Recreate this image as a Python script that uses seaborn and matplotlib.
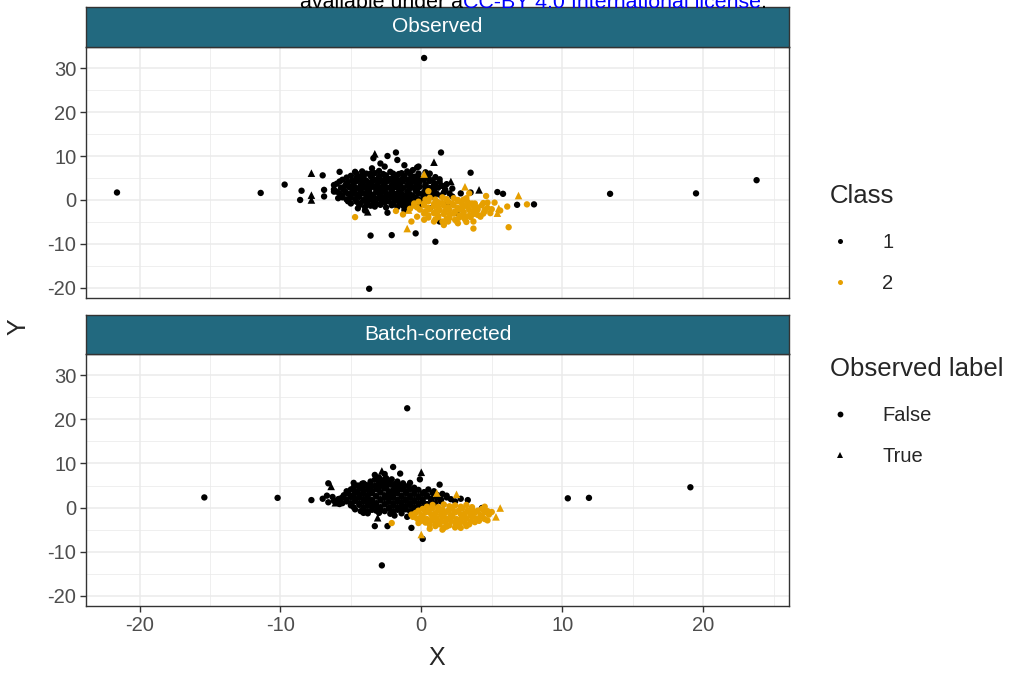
import matplotlib
matplotlib.use("Agg")
import matplotlib.pyplot as plt
from matplotlib.lines import Line2D
from matplotlib.ticker import MultipleLocator
import pandas as pd
import seaborn as sns

# ---------------------------------------------------------------
# Embedding coordinates, split by panel, class and observed label
# ---------------------------------------------------------------
panels = ["Observed", "Batch-corrected"]
class_levels = [1, 2]
label_levels = [False, True]
class_colors = ["#000000", "#E69F00"]
label_markers = ["o", "^"]

x_ticks = [-20, -10, 0, 10, 20]
y_ticks = [-20, -10, 0, 10, 20, 30]

# Observed, class 1, label False
obs_c1_false = [
    (0.2, 32.3), (-21.6, 1.7), (-11.4, 1.6), (13.4, 1.4), (19.5, 1.5), (23.8, 4.5),
    (-3.7, -20.2), (-9.7, 3.5),
    (-7.0, 5.6), (-5.8, 6.4), (-8.5, 2.1), (-8.6, 0.0), (-6.9, 2.3), (-6.9, 0.8),
    (-6.2, 3.4), (-6.2, 1.9), (-5.9, 0.4), (-4.7, 6.4), (-3.4, 9.5), (-2.4, 10.0),
    (-1.8, 10.8), (-2.9, 8.3), (-1.7, 9.1), (-3.5, 7.2), (-4.5, -1.9), (-3.6, -8.1),
    (-2.1, -8.0), (-0.4, -7.6), (1.0, -9.5), (1.4, 10.8), (3.5, 6.2), (3.5, 1.7),
    (5.4, 1.8), (5.8, 1.4), (6.8, -1.1), (8.0, -1.0), (-0.3, 7.4), (1.3, 4.7),
    (1.6, 3.0), (2.8, 1.5), (1.3, -4.9), (-0.2, 1.5), (-0.1, -1.1), (-2.6, 7.6),
    (-1.2, 7.9), (-0.6, 6.8), (-4.0, -2.4), (-2.4, -2.9), (-1.2, -2.3), (0.6, -1.9),
    (2.2, 0.8), (1.9, -0.6), (-0.2, 7.6),
    (-4.2, 6.5), (-3.0, 6.6), (-2.2, 6.4), (-1.0, 6.5), (0.3, 6.3), (-3.6, 6.0), (-1.6, 5.9),
    (-4.6, 6.0), (-3.9, 6.0), (-3.3, 6.1), (-2.7, 5.9), (-2.0, 6.0), (-1.4, 6.1),
    (-0.8, 5.9), (-0.2, 6.0), (0.6, 6.0),
    (-5.0, 5.5), (-4.3, 5.4), (-3.6, 5.5), (-3.0, 5.3), (-2.5, 5.6), (-1.8, 5.4),
    (-1.2, 5.5), (-0.5, 5.3), (0.4, 5.5), (1.0, 5.2),
    (-5.3, 5.1), (-4.6, 5.0), (-4.1, 5.2), (-3.5, 5.1), (-3.0, 4.9), (-2.5, 5.1),
    (-1.9, 5.2), (-1.3, 5.0), (-0.7, 5.1), (-0.1, 4.9), (0.5, 5.1),
    (-5.6, 4.6), (-4.9, 4.5), (-4.4, 4.7), (-3.9, 4.4), (-3.3, 4.6), (-2.8, 4.5),
    (-2.2, 4.8), (-1.6, 4.5), (-1.0, 4.6), (-0.4, 4.4), (0.2, 4.7), (0.8, 4.5),
    (-5.8, 4.2), (-5.2, 4.1), (-4.6, 4.3), (-4.1, 4.2), (-3.5, 4.0), (-3.0, 4.2),
    (-2.4, 4.3), (-1.9, 4.1), (-1.3, 4.2), (-0.7, 4.0), (-0.1, 4.2), (0.6, 4.3), (1.3, 4.1),
    (-6.0, 3.7), (-5.3, 3.8), (-4.8, 3.6), (-4.2, 3.7), (-3.7, 3.9), (-3.1, 3.6),
    (-2.6, 3.7), (-2.0, 3.8), (-1.5, 3.6), (-0.9, 3.7), (-0.3, 3.9), (0.3, 3.6),
    (1.0, 3.7), (1.8, 3.6),
    (-5.4, 3.3), (-4.9, 3.2), (-4.3, 3.4), (-3.8, 3.3), (-3.2, 3.1), (-2.7, 3.3),
    (-2.1, 3.4), (-1.6, 3.2), (-1.0, 3.3), (-0.4, 3.1), (0.3, 3.3), (0.9, 3.4), (1.5, 3.2),
    (-5.7, 2.8), (-5.1, 2.9), (-4.6, 2.7), (-4.0, 2.8), (-3.5, 3.0), (-2.9, 2.7),
    (-2.4, 2.8), (-1.8, 2.9), (-1.3, 2.7), (-0.7, 2.8), (-0.1, 3.0), (0.6, 2.7),
    (1.2, 2.8), (2.2, 2.6),
    (-6.2, 2.4), (-5.5, 2.3), (-4.9, 2.5), (-4.3, 2.4), (-3.7, 2.2), (-3.2, 2.4),
    (-2.6, 2.5), (-2.1, 2.3), (-1.5, 2.4), (-0.9, 2.2), (-0.3, 2.4), (0.3, 2.5),
    (0.9, 2.3), (1.7, 2.4),
    (-6.0, 1.9), (-5.4, 2.0), (-4.9, 1.8), (-4.3, 1.9), (-3.8, 2.1), (-3.2, 1.8),
    (-2.7, 1.9), (-2.1, 2.0), (-1.6, 1.8), (-1.0, 1.9), (-0.4, 2.1), (0.2, 1.8),
    (0.9, 1.9), (1.6, 1.7),
    (-5.8, 1.5), (-5.2, 1.4), (-4.7, 1.6), (-4.1, 1.5), (-3.6, 1.3), (-3.0, 1.5),
    (-2.5, 1.6), (-1.9, 1.4), (-1.4, 1.5), (-0.8, 1.3), (-0.2, 1.5), (0.4, 1.6),
    (1.1, 1.4), (2.0, 1.5),
    (-5.6, 1.0), (-5.0, 1.1), (-4.5, 0.9), (-3.9, 1.0), (-3.4, 1.2), (-2.9, 0.9),
    (-2.3, 1.0), (-1.8, 1.1), (-1.2, 0.9), (-0.6, 1.0), (0.1, 1.2), (0.7, 0.9),
    (1.4, 1.0),
    (-5.6, 0.6), (-5.0, 0.5), (-4.4, 0.7), (-3.8, 0.6), (-3.3, 0.4), (-2.7, 0.6),
    (-2.1, 0.7), (-1.6, 0.5), (-1.0, 0.6), (-0.4, 0.4), (0.2, 0.6), (0.9, 0.7),
    (-5.3, 0.1), (-4.7, 0.2), (-4.1, 0.0), (-3.6, 0.1), (-3.0, 0.3), (-2.5, 0.0),
    (-1.9, 0.1), (-1.4, 0.2), (-0.8, 0.0), (-0.2, 0.1), (0.5, 0.3),
    (-5.2, -0.3), (-4.6, -0.4), (-4.0, -0.2), (-3.4, -0.3), (-2.8, -0.5), (-2.3, -0.3),
    (-1.7, -0.2), (-1.1, -0.4), (-0.5, -0.3), (0.1, -0.2),
    (-5.0, -0.8), (-4.3, -0.7), (-3.8, -0.9), (-3.2, -0.8), (-2.6, -0.6), (-2.0, -0.9),
    (-1.5, -0.8), (-0.9, -0.7), (-0.3, -0.9),
    (-4.4, -1.2), (-3.6, -1.3), (-2.9, -1.1), (-2.1, -1.2), (-1.3, -1.3), (-0.6, -1.1),
    (-4.0, -1.6), (-3.3, -1.5), (-2.5, -1.7), (-1.7, -1.6), (-1.0, -1.5),
]
# Observed, class 1, label True
obs_c1_true = [
    (-7.8, 6.1), (-7.8, 1.1), (-7.8, 0.0), (-3.3, 10.5), (0.9, 8.6), (2.1, 4.2),
    (4.1, 2.3), (2.6, -2.8), (-3.8, -2.7), (-0.3, 5.7),
]
# Observed, class 2, label False
obs_c2_false = [
    (-4.7, -3.9), (4.6, 0.9), (7.5, -1.0), (6.2, -6.2), (3.7, -6.5), (6.1, -1.5),
    (5.2, -0.6), (4.7, -0.6), (4.5, -2.3), (4.9, -3.0), (3.8, -0.8), (3.9, -2.3),
    (4.2, -3.8), (3.7, -4.9), (3.1, -3.8), (2.6, -5.3), (1.9, -4.9), (1.6, -5.7),
    (0.9, -4.9), (0.2, -4.5), (-0.3, -3.8), (-0.7, -4.9), (3.2, 0.4), (3.4, 1.5),
    (-1.3, -3.3), (-1.8, -2.5), (0.5, 2.0), (-0.8, -2.0), (5.6, -2.4),
    (0.6, 0.5), (1.5, 0.6), (2.3, 0.4),
    (0.3, 0.1), (1.0, 0.1), (1.8, 0.2), (2.6, 0.0), (3.0, 0.1),
    (-0.2, -0.4), (0.5, -0.3), (1.2, -0.5), (1.9, -0.4), (2.6, -0.3), (3.3, -0.5),
    (-0.5, -0.8), (0.2, -0.8), (0.9, -0.9), (1.5, -0.7), (2.2, -0.8), (2.9, -0.9),
    (3.6, -0.8), (4.4, -0.7),
    (-0.5, -1.3), (0.2, -1.2), (0.9, -1.4), (1.6, -1.3), (2.3, -1.2), (3.0, -1.4),
    (3.7, -1.3), (4.3, -1.2),
    (-0.3, -1.7), (0.5, -1.8), (1.2, -1.6), (1.9, -1.7), (2.6, -1.8), (3.3, -1.6),
    (4.0, -1.7), (4.7, -1.8),
    (-0.1, -2.2), (0.6, -2.1), (1.3, -2.3), (2.0, -2.2), (2.7, -2.1), (3.4, -2.3),
    (4.0, -2.2), (5.0, -2.1),
    (0.3, -2.6), (1.0, -2.7), (1.7, -2.5), (2.4, -2.6), (3.0, -2.7), (3.7, -2.5),
    (4.5, -2.6),
    (0.2, -3.1), (0.9, -3.0), (1.6, -3.2), (2.3, -3.1), (3.0, -3.0), (3.7, -3.2),
    (4.4, -3.1),
    (0.5, -3.5), (1.2, -3.6), (2.0, -3.4), (2.7, -3.5), (3.4, -3.6), (4.0, -3.4),
    (0.5, -4.0), (1.2, -3.9), (2.0, -4.1), (2.7, -4.0), (3.5, -3.9),
    (1.0, -4.4), (1.8, -4.3), (2.4, -4.5), (3.1, -4.4),
    (1.5, -4.9), (2.5, -4.8), (3.2, -5.0),
]
# Observed, class 2, label True
obs_c2_true = [
    (0.2, 5.9), (3.1, 3.0), (6.9, 1.0), (-1.0, -6.5), (5.5, -1.9), (5.4, -3.0),
    (-0.9, -2.3),
]

# Batch-corrected, class 1, label False
bc_c1_false = [
    (-1.0, 22.5), (-15.4, 2.3), (-10.2, 2.2), (10.4, 2.1), (11.9, 2.2), (19.1, 4.6),
    (-2.8, -13.1), (0.1, -7.1),
    (-7.8, 1.7), (-6.6, 5.5), (-6.7, 2.7), (-4.8, 5.6), (-4.1, 5.5), (-2.0, 9.2),
    (-1.5, 7.7), (-0.1, 6.4), (-0.8, 5.6), (1.3, 5.2), (2.4, 1.4), (2.8, 2.0),
    (3.3, 1.7), (4.3, -0.1), (-0.7, -4.6), (0.4, -0.8), (-2.4, -4.2), (-3.3, -4.2),
    (-1.9, -1.8), (-4.1, -1.2), (-1.0, -2.1), (-6.2, 1.5), (-5.6, 1.0), (-5.8, 2.0),
    (-7.0, 2.0), (-6.6, 1.2), (-6.3, 2.4), (-5.8, 0.8),
    (-2.6, 7.6), (-3.3, 7.4),
    (-3.0, 6.8), (-2.5, 6.7),
    (-3.3, 6.3), (-2.7, 6.2), (-2.1, 6.4),
    (-3.6, 5.9), (-3.0, 6.0), (-2.4, 5.8), (-1.7, 5.9),
    (-4.2, 5.4), (-3.6, 5.3), (-3.0, 5.5), (-2.5, 5.4), (-1.9, 5.3), (-1.3, 5.5),
    (-4.5, 5.0), (-3.9, 5.1), (-3.3, 4.9), (-2.8, 5.0), (-2.2, 5.2), (-1.6, 4.9),
    (-0.9, 5.0),
    (-4.8, 4.6), (-4.2, 4.5), (-3.6, 4.7), (-3.0, 4.6), (-2.5, 4.4), (-1.9, 4.6),
    (-1.2, 4.7), (-0.5, 4.5),
    (-5.0, 4.1), (-4.4, 4.2), (-3.8, 4.0), (-3.2, 4.1), (-2.6, 4.3), (-2.0, 4.0),
    (-1.4, 4.1), (-0.8, 4.2), (-0.2, 4.0), (0.5, 4.1),
    (-5.3, 3.7), (-4.7, 3.6), (-4.1, 3.8), (-3.5, 3.7), (-2.9, 3.5), (-2.3, 3.7),
    (-1.7, 3.8), (-1.1, 3.6), (-0.5, 3.7), (0.2, 3.5), (0.9, 3.7),
    (-5.2, 3.2), (-4.7, 3.3), (-4.1, 3.1), (-3.5, 3.2), (-2.9, 3.4), (-2.3, 3.1),
    (-1.7, 3.2), (-1.1, 3.3), (-0.5, 3.1), (0.1, 3.2), (0.8, 3.3), (1.5, 3.1),
    (-5.5, 2.8), (-4.9, 2.7), (-4.4, 2.9), (-3.8, 2.8), (-3.2, 2.6), (-2.6, 2.8),
    (-2.0, 2.9), (-1.4, 2.7), (-0.8, 2.8), (-0.2, 2.6), (0.4, 2.8), (1.1, 2.9), (1.8, 2.7),
    (-5.6, 2.3), (-5.0, 2.4), (-4.4, 2.2), (-3.8, 2.3), (-3.2, 2.5), (-2.6, 2.2),
    (-2.0, 2.3), (-1.4, 2.4), (-0.8, 2.2), (-0.2, 2.3), (0.4, 2.5), (1.1, 2.2),
    (1.8, 2.3),
    (-5.9, 1.9), (-5.3, 1.8), (-4.7, 2.0), (-4.1, 1.9), (-3.5, 1.7), (-2.9, 1.9),
    (-2.3, 2.0), (-1.7, 1.8), (-1.1, 1.9), (-0.5, 1.7), (0.1, 1.9), (0.7, 2.0),
    (1.4, 1.8), (2.1, 1.9),
    (-5.3, 1.4), (-4.7, 1.5), (-4.1, 1.3), (-3.5, 1.4), (-2.9, 1.6), (-2.3, 1.3),
    (-1.7, 1.4), (-1.1, 1.5), (-0.5, 1.3), (0.1, 1.4), (0.7, 1.6), (1.4, 1.4),
    (-5.0, 1.0), (-4.4, 0.9), (-3.8, 1.1), (-3.2, 1.0), (-2.6, 0.8), (-2.0, 1.0),
    (-1.4, 1.1), (-0.8, 0.9), (-0.2, 1.0), (0.4, 0.8), (1.0, 1.0),
    (-5.0, 0.5), (-4.4, 0.6), (-3.8, 0.4), (-3.2, 0.5), (-2.6, 0.7), (-2.0, 0.4),
    (-1.4, 0.5), (-0.8, 0.6), (-0.2, 0.4), (0.4, 0.5),
    (-4.8, 0.1), (-4.1, 0.0), (-3.5, 0.2), (-2.9, 0.1), (-2.3, -0.1), (-1.7, 0.1),
    (-1.1, 0.2), (-0.5, 0.0), (0.1, 0.1),
    (-4.7, -0.4), (-4.1, -0.3), (-3.5, -0.5), (-2.9, -0.4), (-2.3, -0.2), (-1.7, -0.5),
    (-1.1, -0.4), (-0.5, -0.3),
    (-4.3, -0.8), (-3.8, -0.9), (-3.2, -0.7), (-2.6, -0.8), (-2.0, -0.9), (-1.4, -0.7),
    (-0.8, -0.8),
    (-3.8, -1.3), (-3.0, -1.2), (-2.2, -1.4), (-1.4, -1.3),
]
# Batch-corrected, class 1, label True
bc_c1_true = [
    (-6.4, 4.8), (-6.1, 1.1), (-2.8, 8.3), (0.0, 8.0), (-3.1, -2.3),
]
# Batch-corrected, class 2, label False
bc_c2_false = [
    (-2.1, -3.5), (-0.2, -3.5), (0.6, -4.8), (2.8, -4.6), (4.7, -2.9), (-0.5, -1.5),
    (5.0, -1.0), (4.5, 0.2), (1.5, -5.0),
    (0.8, 0.6), (1.6, 0.7), (2.4, 0.5), (3.2, 0.6),
    (0.4, 0.2), (1.2, 0.1), (2.0, 0.3), (2.8, 0.2), (3.6, 0.1),
    (0.1, -0.3), (0.8, -0.2), (1.5, -0.4), (2.2, -0.3), (2.9, -0.2), (3.6, -0.4),
    (4.3, -0.3),
    (-0.2, -0.7), (0.5, -0.8), (1.2, -0.6), (1.9, -0.7), (2.6, -0.8), (3.3, -0.6),
    (4.0, -0.7), (4.7, -0.8),
    (-0.4, -1.2), (0.3, -1.1), (1.0, -1.3), (1.7, -1.2), (2.4, -1.1), (3.1, -1.3),
    (3.8, -1.2), (4.5, -1.1),
    (-0.7, -1.6), (0.0, -1.7), (0.7, -1.5), (1.4, -1.6), (2.1, -1.7), (2.8, -1.5),
    (3.5, -1.6), (4.2, -1.7), (4.8, -1.6),
    (-0.6, -2.1), (0.1, -2.0), (0.8, -2.2), (1.5, -2.1), (2.2, -2.0), (2.9, -2.2),
    (3.6, -2.1), (4.3, -2.0),
    (-0.3, -2.5), (0.4, -2.6), (1.1, -2.4), (1.8, -2.5), (2.5, -2.6), (3.2, -2.4),
    (3.9, -2.5), (4.5, -2.6),
    (0.0, -3.0), (0.7, -2.9), (1.4, -3.1), (2.1, -3.0), (2.8, -2.9), (3.5, -3.1),
    (4.1, -3.0),
    (0.3, -3.4), (1.0, -3.5), (1.7, -3.3), (2.4, -3.4), (3.1, -3.5), (3.8, -3.3),
    (0.6, -3.9), (1.3, -3.8), (2.0, -4.0), (2.7, -3.9), (3.4, -3.8),
    (1.0, -4.2), (1.8, -4.3), (2.6, -4.1), (3.2, -4.2),
    (1.6, -4.6), (2.4, -4.5),
]
# Batch-corrected, class 2, label True
bc_c2_true = [
    (1.1, 3.3), (2.5, 3.0), (5.6, -0.1), (5.3, -2.1), (0.0, -6.1),
]

groups = {
    ("Observed", 1, False): obs_c1_false,
    ("Observed", 1, True): obs_c1_true,
    ("Observed", 2, False): obs_c2_false,
    ("Observed", 2, True): obs_c2_true,
    ("Batch-corrected", 1, False): bc_c1_false,
    ("Batch-corrected", 1, True): bc_c1_true,
    ("Batch-corrected", 2, False): bc_c2_false,
    ("Batch-corrected", 2, True): bc_c2_true,
}

rows = []
for (panel, cls, lab), pts in groups.items():
    for x, y in pts:
        rows.append({"panel": panel, "X": x, "Y": y, "Class": cls, "Observed label": lab})
df = pd.DataFrame(rows)

# ---------------------------------------------------------------
# Figure
# ---------------------------------------------------------------
sns.set_theme(style="white")
plt.rcParams["font.family"] = ["Liberation Sans", "DejaVu Sans"]
plt.rcParams["axes.unicode_minus"] = False

W, H = 1012, 673
fig = plt.figure(figsize=(W / 100, H / 100), dpi=100)
fig.patch.set_facecolor("white")


def frac(left, top, right, bottom):
    return [left / W, 1 - bottom / H, (right - left) / W, (bottom - top) / H]


panel_boxes = {
    "Observed": (frac(86, 47, 789, 298), frac(86, 7, 789, 47)),
    "Batch-corrected": (frac(86, 354, 789, 606), frac(86, 315, 789, 354)),
}

palette = dict(zip(class_levels, class_colors))
markers = dict(zip(label_levels, label_markers))
strip_color = "#22697F"
frame_color = "#333333"
grid_color = "#EBEBEB"
tick_color = "#4D4D4D"

for i, panel in enumerate(panels):
    box, strip_box = panel_boxes[panel]
    ax = fig.add_axes(box)
    sub = df[df["panel"] == panel]
    sns.scatterplot(
        data=sub, x="X", y="Y", hue="Class", style="Observed label",
        palette=palette, markers=markers, size="Observed label",
        sizes={False: 21, True: 30}, linewidth=0, legend=False, ax=ax,
    )
    ax.set_xlim(-23.8, 26.1)
    ax.set_ylim(-22.3, 34.8)
    ax.set_xticks(x_ticks)
    ax.set_yticks(y_ticks)
    ax.xaxis.set_minor_locator(MultipleLocator(5))
    ax.yaxis.set_minor_locator(MultipleLocator(5))
    ax.grid(True, which="major", color=grid_color, linewidth=1.1)
    ax.grid(True, which="minor", color=grid_color, linewidth=0.55)
    ax.set_axisbelow(True)
    for sp in ax.spines.values():
        sp.set_color(frame_color)
        sp.set_linewidth(1.0)
    ax.tick_params(axis="both", which="major", length=4, width=1.0,
                   color=frame_color, labelcolor=tick_color, labelsize=14.5,
                   direction="out", left=True, bottom=True, pad=3)
    ax.tick_params(axis="both", which="minor", length=0)
    ax.set_xlabel("")
    ax.set_ylabel("")
    if i == 0:
        ax.tick_params(axis="x", labelbottom=False, bottom=False)

    sax = fig.add_axes(strip_box)
    sax.set_facecolor(strip_color)
    sax.set_xticks([])
    sax.set_yticks([])
    for sp in sax.spines.values():
        sp.set_color(frame_color)
        sp.set_linewidth(1.0)
    sax.text(0.5, 0.5, panel, color="white", fontsize=15,
             ha="center", va="center", transform=sax.transAxes)

fig.text(437 / W, 1 - 658 / H, "X", fontsize=18, ha="center", va="center")
fig.text(18 / W, 1 - 327 / H, "Y", fontsize=18, ha="center", va="center", rotation=90)

# Legends
class_handles = [Line2D([], [], linestyle="", marker="o", markersize=3.6,
                        markerfacecolor=c, markeredgewidth=0) for c in class_colors]
label_handles = [Line2D([], [], linestyle="", marker=m, markersize=4.2,
                        markerfacecolor="black", markeredgewidth=0) for m in label_markers]
leg_kw = dict(frameon=False, fontsize=14.5, title_fontsize=18.5, alignment="left",
              handlelength=1.0, handletextpad=1.6, labelspacing=1.08, borderpad=0,
              borderaxespad=0, loc="upper left")
leg1 = fig.legend(class_handles, [str(c) for c in class_levels], title="Class",
                  bbox_to_anchor=(830 / W, 1 - 184 / H), **leg_kw)
leg2 = fig.legend(label_handles, [str(v) for v in label_levels], title="Observed label",
                  bbox_to_anchor=(830 / W, 1 - 357 / H), **leg_kw)
for leg in (leg1, leg2):
    leg._legend_box.sep = 18

# License banner along the top edge
fig.canvas.draw()
renderer = fig.canvas.get_renderer()
x_px = 300
for piece, col in [("available under a", "black"),
                   ("CC-BY 4.0 International license", "blue"),
                   (".", "black")]:
    t = fig.text(x_px / W, 1 - 8.5 / H, piece, color=col, fontsize=15.4,
                 ha="left", va="baseline")
    bb = t.get_window_extent(renderer=renderer)
    x_px += bb.width

fig.savefig("out.png", dpi=100)
